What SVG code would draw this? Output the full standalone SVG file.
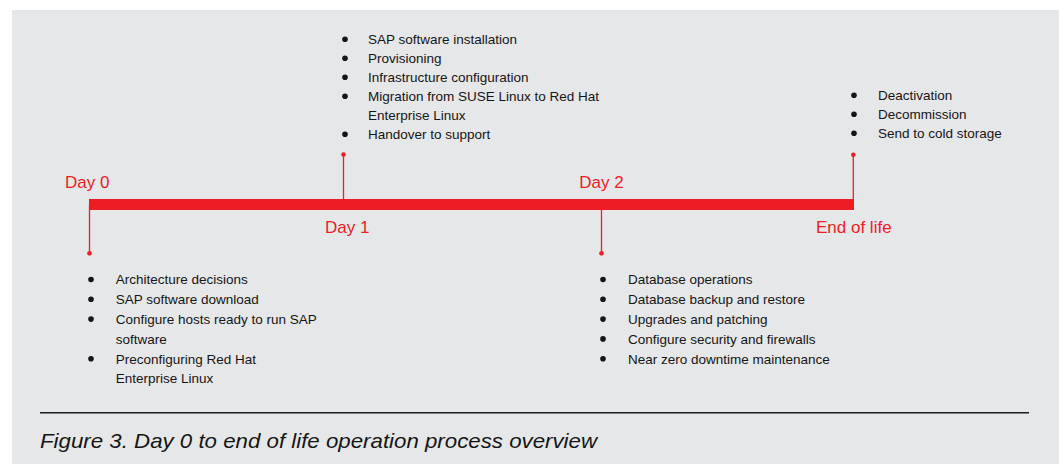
<svg xmlns="http://www.w3.org/2000/svg" width="1059" height="464" viewBox="0 0 1059 464">
<style>
.bg{fill:#e6e7e9}
.bar{fill:#ee1c25}
.stem{stroke:#ee1c25;stroke-width:1.3;fill:none}
.dot{fill:#ee1c25}
.lbl{font-family:"Liberation Sans",Arial,sans-serif;font-size:17px;fill:#ee1c25}
.item{font-family:"Liberation Sans",Arial,sans-serif;font-size:13.5px;fill:#151515}
.bul{fill:#151515}
.cap{font-family:"Liberation Sans",Arial,sans-serif;font-size:21px;font-style:italic;fill:#151515}
</style>
<rect class="bg" x="12" y="10" width="1047" height="454"/>
<g id="timeline">
<rect class="bar" x="89" y="199" width="765" height="11"/>
</g>
<g id="connectors">
<line class="stem" x1="89.5" y1="205" x2="89.5" y2="253"/>
<circle class="dot" cx="89.5" cy="253.3" r="2.3"/>
<line class="stem" x1="343.5" y1="154.5" x2="343.5" y2="205"/>
<circle class="dot" cx="343.5" cy="154.5" r="2.3"/>
<line class="stem" x1="601.5" y1="205" x2="601.5" y2="253"/>
<circle class="dot" cx="601.5" cy="253.3" r="2.3"/>
<line class="stem" x1="853.3" y1="154.7" x2="853.3" y2="205"/>
<circle class="dot" cx="853.3" cy="154.7" r="2.3"/>
</g>
<g id="day0">
<text class="lbl" x="65" y="187.5">Day 0</text>
<circle class="bul" cx="91" cy="279.5" r="2.8"/>
<circle class="bul" cx="91" cy="299.3" r="2.8"/>
<circle class="bul" cx="91" cy="319.1" r="2.8"/>
<circle class="bul" cx="91" cy="358.7" r="2.8"/>
<text class="item" x="115.7" y="284.3">Architecture decisions</text>
<text class="item" x="115.7" y="304.1">SAP software download</text>
<text class="item" x="115.7" y="323.9">Configure hosts ready to run SAP</text>
<text class="item" x="115.7" y="343.7">software</text>
<text class="item" x="115.7" y="363.5">Preconfiguring Red Hat</text>
<text class="item" x="115.7" y="383.3">Enterprise Linux</text>
</g>
<g id="day1">
<text class="lbl" x="325" y="233.3">Day 1</text>
<circle class="bul" cx="345" cy="39.3" r="2.8"/>
<circle class="bul" cx="345" cy="58.3" r="2.8"/>
<circle class="bul" cx="345" cy="77.3" r="2.8"/>
<circle class="bul" cx="345" cy="96.3" r="2.8"/>
<circle class="bul" cx="345" cy="134.3" r="2.8"/>
<text class="item" x="368" y="44">SAP software installation</text>
<text class="item" x="368" y="63">Provisioning</text>
<text class="item" x="368" y="82">Infrastructure configuration</text>
<text class="item" x="368" y="101">Migration from SUSE Linux to Red Hat</text>
<text class="item" x="368" y="120">Enterprise Linux</text>
<text class="item" x="368" y="139">Handover to support</text>
</g>
<g id="day2">
<text class="lbl" x="579.3" y="187.5">Day 2</text>
<circle class="bul" cx="603" cy="279.5" r="2.8"/>
<circle class="bul" cx="603" cy="299.3" r="2.8"/>
<circle class="bul" cx="603" cy="319.1" r="2.8"/>
<circle class="bul" cx="603" cy="338.9" r="2.8"/>
<circle class="bul" cx="603" cy="358.7" r="2.8"/>
<text class="item" x="628" y="284.3">Database operations</text>
<text class="item" x="628" y="304.1">Database backup and restore</text>
<text class="item" x="628" y="323.9">Upgrades and patching</text>
<text class="item" x="628" y="343.7">Configure security and firewalls</text>
<text class="item" x="628" y="363.5">Near zero downtime maintenance</text>
</g>
<g id="endoflife">
<text class="lbl" x="816" y="233">End of life</text>
<circle class="bul" cx="854" cy="95.3" r="2.8"/>
<circle class="bul" cx="854" cy="114.3" r="2.8"/>
<circle class="bul" cx="854" cy="133.3" r="2.8"/>
<text class="item" x="878" y="100">Deactivation</text>
<text class="item" x="878" y="119">Decommission</text>
<text class="item" x="878" y="138">Send to cold storage</text>
</g>
<g id="caption">
<line x1="40" y1="412.8" x2="1029" y2="412.8" stroke="#1a1a1a" stroke-width="1.4"/>
<text class="cap" x="40" y="448" textLength="557" lengthAdjust="spacingAndGlyphs">Figure 3. Day 0 to end of life operation process overview</text>
</g>
</svg>
